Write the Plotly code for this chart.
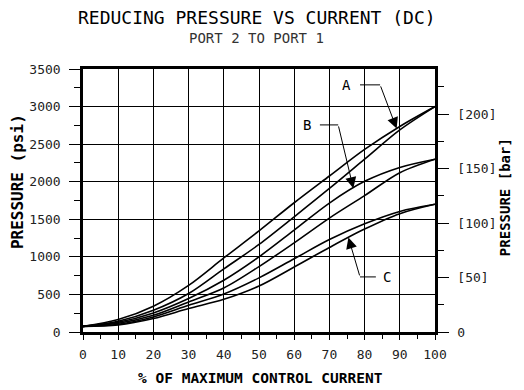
import numpy as np
import plotly.graph_objects as go

# % of maximum control current
current = [0, 10, 20, 30, 40, 50, 60, 70, 80, 90, 100]
# reducing pressure, psi (pairs = increasing / decreasing current)
a_upper = [75, 165, 343, 620, 985, 1345, 1720, 2076, 2430, 2735, 3000]
a_lower = [75, 143, 289, 512, 840, 1165, 1533, 1910, 2300, 2690, 3000]
b_upper = [75, 129, 253, 445, 689, 1000, 1356, 1716, 2005, 2190, 2300]
b_lower = [75, 116, 223, 400, 585, 870, 1187, 1516, 1815, 2120, 2300]
c_upper = [75, 103, 200, 356, 505, 720, 975, 1230, 1440, 1605, 1700]
c_lower = [75, 93, 179, 312, 435, 612, 865, 1125, 1370, 1575, 1700]

x_ticks = [0, 10, 20, 30, 40, 50, 60, 70, 80, 90, 100]
psi_ticks = [0, 500, 1000, 1500, 2000, 2500, 3000, 3500]
bar_ticks = [0, 50, 100, 150, 200]
bar_labels = ["0", "[50]", "[100]", "[150]", "[200]"]
PSI_PER_BAR = 14.5038

MONO = "DejaVu Sans Mono"

fig = go.Figure()
for ys in [a_upper, a_lower, b_upper, b_lower, c_upper, c_lower]:
    fig.add_trace(go.Scatter(x=current, y=ys, mode="lines",
                             line=dict(color="black", width=1.6, shape="spline", smoothing=0.9),
                             showlegend=False, hoverinfo="skip"))
# carrier trace for the bar axis
fig.add_trace(go.Scatter(x=[0], y=[0], yaxis="y2", mode="none", showlegend=False, hoverinfo="skip"))

# leader arrows
def leader(label, lx, ly, x0, hx, tip_x, series):
    tip_y = float(np.interp(tip_x, current, series))
    fig.add_annotation(x=lx, y=ly, xref="x", yref="y", text=label, showarrow=False,
                       font=dict(family=MONO, size=14, color="black"), xanchor="center", yanchor="middle")
    fig.add_shape(type="line", xref="x", yref="y", x0=x0, x1=hx, y0=ly, y1=ly,
                  line=dict(color="black", width=1))
    fig.add_annotation(x=tip_x, y=tip_y, ax=hx, ay=ly, xref="x", yref="y", axref="x", ayref="y",
                       text="", showarrow=True, arrowhead=2, arrowsize=2.2, arrowwidth=1,
                       arrowcolor="black", standoff=0)

leader("A", 74.9, 3289, 78.7, 84.4, 89.1, a_upper)
leader("B", 63.5, 2756, 67.3, 72.5, 76.8, b_upper)
leader("C", 86.4, 733, 83.2, 78.7, 75.4, c_lower)

# titles
fig.add_annotation(x=0.494, y=1.194, xref="paper", yref="paper", text="REDUCING PRESSURE VS CURRENT (DC)",
                   showarrow=False, font=dict(family=MONO, size=18, color="black"),
                   xanchor="center", yanchor="middle")
fig.add_annotation(x=0.493, y=1.118, xref="paper", yref="paper", text="PORT 2 TO PORT 1",
                   showarrow=False, font=dict(family=MONO, size=14, color="#333333"),
                   xanchor="center", yanchor="middle")
fig.add_annotation(x=0.503, y=-0.176, xref="paper", yref="paper", text="<b>% OF MAXIMUM CONTROL CURRENT</b>",
                   showarrow=False, font=dict(family=MONO, size=14.5, color="black"),
                   xanchor="center", yanchor="middle")
fig.add_annotation(x=-0.1875, y=0.57, xref="paper", yref="paper", text="<b>PRESSURE (psi)</b>",
                   showarrow=False, textangle=-90, font=dict(family=MONO, size=16, color="black"),
                   xanchor="center", yanchor="middle")
fig.add_annotation(x=1.199, y=0.513, xref="paper", yref="paper", text="<b>PRESSURE [bar]</b>",
                   showarrow=False, textangle=-90, font=dict(family=MONO, size=14, color="black"),
                   xanchor="center", yanchor="middle")

tickfont = dict(family=MONO, size=13, color="#222222")
# page body has an 8px margin, so the figure is 8px smaller and margins shifted accordingly
fig.update_layout(
    width=516, height=382,
    margin=dict(l=75, r=89, t=61, b=58),
    paper_bgcolor="white", plot_bgcolor="white",
    xaxis=dict(range=[0, 100], tickvals=x_ticks, ticks="outside", ticklen=5, tickwidth=1.2,
               tickcolor="black", showgrid=True, gridcolor="black", gridwidth=1.2,
               showline=True, linecolor="black", linewidth=2.5, mirror=True,
               zeroline=False, tickfont=tickfont, ticklabelstandoff=4,
               minor=dict(dtick=5, ticks="outside", ticklen=4, tickcolor="black", showgrid=False)),
    yaxis=dict(range=[0, 3500], tickvals=psi_ticks, ticks="outside", ticklen=11, tickwidth=1.2,
               tickcolor="black", showgrid=True, gridcolor="black", gridwidth=1.2,
               showline=True, linecolor="black", linewidth=2.5, zeroline=False,
               tickfont=tickfont, ticklabelstandoff=6,
               minor=dict(dtick=250, ticks="outside", ticklen=6, tickcolor="black", showgrid=False)),
    yaxis2=dict(range=[0, 3500 / PSI_PER_BAR], overlaying="y", side="right",
                tickvals=bar_ticks, ticktext=bar_labels, ticks="outside", ticklen=11, tickwidth=1.2,
                tickcolor="black", showgrid=False, showline=True, linecolor="black", linewidth=2.5,
                zeroline=False, tickfont=tickfont, ticklabelstandoff=6,
                minor=dict(dtick=25, ticks="outside", ticklen=6, tickcolor="black", showgrid=False)),
)

fig.write_html("out.html")
